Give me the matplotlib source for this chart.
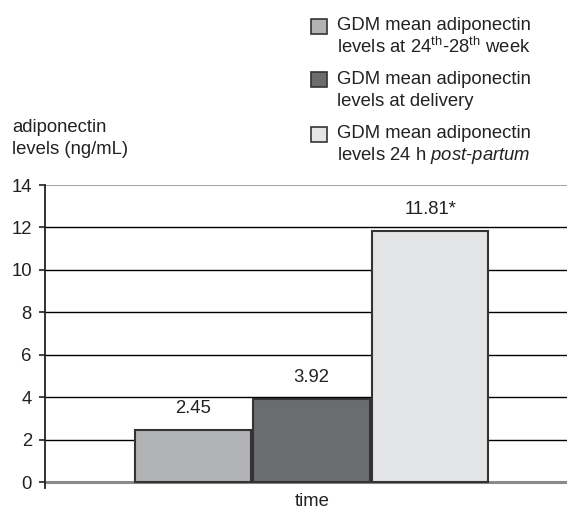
import matplotlib.pyplot as plt
from matplotlib.patches import Rectangle

plt.rcParams["font.family"] = "Liberation Sans"
plt.rcParams["mathtext.fontset"] = "custom"
plt.rcParams["mathtext.rm"] = "Liberation Sans"
plt.rcParams["mathtext.it"] = "Liberation Sans:italic"

W, H = 567, 515

stages = ["24th-28th week", "delivery", "24 h post-partum"]
values = [2.45, 3.92, 11.81]
value_labels = ["2.45", "3.92", "11.81*"]
bar_colors = ["#b2b3b5", "#6b6c6f", "#e3e4e6"]
legend_labels = [
    ["GDM mean adiponectin", r"levels at 24$^{\mathrm{th}}$-28$^{\mathrm{th}}$ week"],
    ["GDM mean adiponectin", "levels at delivery"],
    ["GDM mean adiponectin", r"levels 24 h $\mathit{post}$-$\mathit{partum}$"],
]
yticks = [0, 2, 4, 6, 8, 10, 12, 14]

FS = 13.3


def fx(px):
    return px / W


def fy(py):
    return 1 - py / H


fig = plt.figure(figsize=(W / 100, H / 100), dpi=100)
ax = fig.add_axes([fx(45), fy(488), 1 - fx(45), fy(185) - fy(488)])

# grid lines behind the bars
for t in yticks[1:-1]:
    ax.axhline(t, color="black", lw=1.0, zorder=1)
ax.axhline(14, color="#999999", lw=1.3, zorder=1)
ax.axhline(0, color="#8a8a8a", lw=2.2, zorder=1)

x = range(len(values))
ax.bar(x, values, width=0.98, color=bar_colors, edgecolor="#333333",
       linewidth=1.5, zorder=3)

for i, (v, lab) in enumerate(zip(values, value_labels)):
    ax.annotate(lab, (i, v), xytext=(0, 15.5), textcoords="offset points",
                ha="center", va="center", fontsize=FS, color="#222222")

ax.set_xlim(-1.248, 3.155)
ax.set_ylim(-0.28, 14)
ax.set_yticks(yticks)
ax.set_xticks([])
ax.tick_params(axis="y", length=4, width=1.2, pad=5.5, labelsize=FS,
               colors="#222222")
for side in ["top", "right", "bottom"]:
    ax.spines[side].set_visible(False)
ax.spines["left"].set_linewidth(1.3)
ax.spines["left"].set_color("#222222")

fig.text(fx(312), fy(501), "time", ha="center", va="center", fontsize=FS,
         color="#222222")
fig.text(fx(12), fy(128), "adiponectin", ha="left", va="center", fontsize=FS,
         color="#222222")
fig.text(fx(12), fy(150), "levels (ng/mL)", ha="left", va="center",
         fontsize=FS, color="#222222")

# legend drawn by hand so the swatch sits on the first text line
rows_y = [(26, 47), (79, 101), (134, 155)]
for color, lines, (y1, y2) in zip(bar_colors, legend_labels, rows_y):
    fig.patches.append(Rectangle((fx(311), fy(y1 + 7.5)), fx(16), fy(0) - fy(15),
                                 transform=fig.transFigure, facecolor=color,
                                 edgecolor="#333333", linewidth=1.2))
    fig.text(fx(337), fy(y1), lines[0], ha="left", va="center", fontsize=FS,
             color="#222222")
    fig.text(fx(337), fy(y2), lines[1], ha="left", va="center", fontsize=FS,
             color="#222222")

fig.savefig("out.png", dpi=100)
